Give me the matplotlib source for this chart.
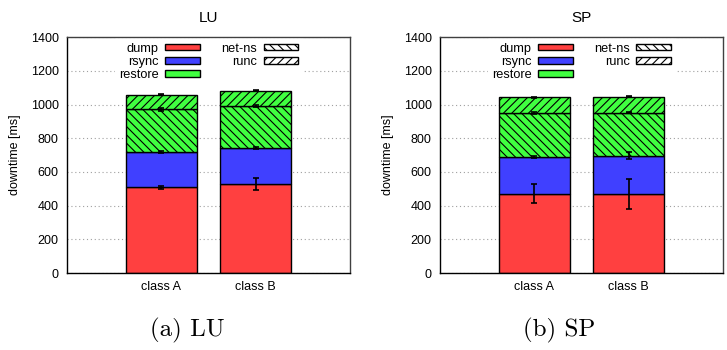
import numpy as np
import matplotlib.pyplot as plt
from matplotlib.patches import Patch

# Downtime breakdown (ms) per NPB benchmark and problem class
classes = ['class A', 'class B']

lu_dump = [508, 528]
lu_rsync = [211, 215]
lu_netns = [252, 249]
lu_runc = [87, 91]
lu_dump_err = [8, 38]
lu_rsync_err = [6, 7]
lu_netns_err = [7, 5]
lu_runc_err = [3, 3]

sp_dump = [471, 471]
sp_rsync = [215, 226]
sp_netns = [263, 254]
sp_runc = [93, 95]
sp_dump_err = [58, 89]
sp_rsync_err = [6, 21]
sp_netns_err = [7, 4]
sp_runc_err = [3, 4]

RED = '#ff4040'
BLUE = '#4040ff'
GREEN = '#40ff40'

plt.rcParams['font.family'] = ['Liberation Sans', 'DejaVu Sans']
plt.rcParams['hatch.linewidth'] = 0.8


def draw_panel(ax, title, dump, rsync, netns, runc, errs):
    x = np.arange(len(classes))
    width = 0.75
    segments = [
        (dump, RED, ''),
        (rsync, BLUE, ''),
        (netns, GREEN, '\\\\\\\\'),
        (runc, GREEN, '////'),
    ]
    bottom = np.zeros(len(classes))
    tops = []
    for values, color, hatch in segments:
        values = np.array(values, dtype=float)
        ax.bar(x, values, width, bottom=bottom, color=color, hatch=hatch,
               edgecolor='black', linewidth=1.0, zorder=2)
        bottom = bottom + values
        tops.append(bottom.copy())
    for top, err in zip(tops, errs):
        ax.errorbar(x, top, yerr=err, fmt='none', ecolor='black',
                    elinewidth=1.2, capsize=2.5, capthick=1.2, zorder=3)

    ax.set_xlim(-1, 2)
    ax.set_ylim(0, 1400)
    ax.set_yticks(range(0, 1401, 200))
    ax.set_xticks(x)
    ax.set_xticklabels(classes)
    ax.tick_params(axis='both', length=0, labelsize=9, pad=6)
    ax.set_ylabel('downtime [ms]', fontsize=9, labelpad=7)
    ax.set_title(title, fontsize=11, pad=11)
    ax.yaxis.grid(True, linestyle=(0, (1, 2.5)), color='#a0a0a0',
                  linewidth=0.8, zorder=0)
    ax.set_axisbelow(True)
    for name, spine in ax.spines.items():
        spine.set_color('#404040')
        spine.set_linewidth(1.0)
    ax.spines['left'].set_color('black')
    ax.spines['bottom'].set_color('black')

    handles = [
        Patch(facecolor=RED, edgecolor='black', label='dump'),
        Patch(facecolor=BLUE, edgecolor='black', label='rsync'),
        Patch(facecolor=GREEN, edgecolor='black', label='restore'),
        Patch(facecolor='white', edgecolor='black', hatch='\\\\\\\\', label='net-ns'),
        Patch(facecolor='white', edgecolor='black', hatch='////', label='runc'),
    ]
    leg = ax.legend(handles=handles, ncol=2, loc='upper center',
                    bbox_to_anchor=(0.5, 1.02), markerfirst=False,
                    fontsize=9.2, handlelength=2.7, handleheight=0.45,
                    handletextpad=0.5, columnspacing=1.7, labelspacing=0.08,
                    borderpad=0.3, frameon=True, fancybox=False)
    leg.get_frame().set_facecolor('white')
    leg.get_frame().set_edgecolor('white')
    leg.get_frame().set_alpha(1.0)
    for t in leg.get_texts():
        t.set_ha('right')
    leg.set_zorder(5)


fig = plt.figure(figsize=(7.27, 3.5), dpi=100)
ax_lu = fig.add_axes([0.0922, 0.22, 0.3892, 0.674])
ax_sp = fig.add_axes([0.6052, 0.22, 0.3893, 0.674])

draw_panel(ax_lu, 'LU', lu_dump, lu_rsync, lu_netns, lu_runc,
           [lu_dump_err, lu_rsync_err, lu_netns_err, lu_runc_err])
draw_panel(ax_sp, 'SP', sp_dump, sp_rsync, sp_netns, sp_runc,
           [sp_dump_err, sp_rsync_err, sp_netns_err, sp_runc_err])

# subfigure captions
fig.text(0.257, 0.057, '(a) LU', fontsize=18, family='cmr10',
         ha='center', va='center')
fig.text(0.769, 0.057, '(b) SP', fontsize=18, family='cmr10',
         ha='center', va='center')

fig.savefig('out.png', dpi=100)
